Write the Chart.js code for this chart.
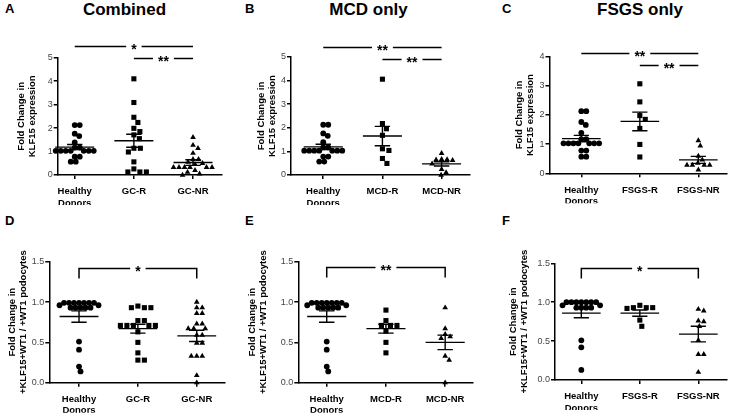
<!DOCTYPE html>
<html>
<head>
<meta charset="utf-8">
<script src="https://cdn.jsdelivr.net/npm/chart.js@4.4.1/dist/chart.umd.min.js"></script>
<style>
  body { margin: 0; width: 731px; height: 416px; position: relative; overflow: hidden; background: #fff; font-family: "Liberation Sans", Arial, sans-serif; color: #000; }
  canvas { position: absolute; }
  .letter { position: absolute; font-weight: bold; font-size: 13px; line-height: 13px; }
  .title { position: absolute; font-weight: bold; font-size: 17px; line-height: 17px; white-space: nowrap; transform: translateX(-50%); }
</style>
</head>
<body>
<div class="letter" style="left:5px;top:1.5px">A</div>
<div class="letter" style="left:245px;top:1.5px">B</div>
<div class="letter" style="left:502px;top:1.5px">C</div>
<div class="letter" style="left:5px;top:214px">D</div>
<div class="letter" style="left:245px;top:214px">E</div>
<div class="letter" style="left:502px;top:214px">F</div>
<div class="title" style="left:124.5px;top:0.6px">Combined</div>
<div class="title" style="left:368.5px;top:0.6px">MCD only</div>
<div class="title" style="left:640px;top:0.6px">FSGS only</div>

<canvas id="cA" width="240" height="185" style="left:0;top:30px"></canvas>
<canvas id="cB" width="240" height="185" style="left:240px;top:30px"></canvas>
<canvas id="cC" width="251" height="185" style="left:480px;top:30px"></canvas>
<canvas id="cD" width="240" height="176" style="left:0;top:240px"></canvas>
<canvas id="cE" width="240" height="176" style="left:240px;top:240px"></canvas>
<canvas id="cF" width="251" height="176" style="left:480px;top:240px"></canvas>

<script>
  // ---- data ----
  const catsA = [["Healthy", "Donors"], "GC-R", "GC-NR"];
  const catsB = [["Healthy", "Donors"], "MCD-R", "MCD-NR"];
  const catsC = [["Healthy", "Donors"], "FSGS-R", "FSGS-NR"];

  const titleTop = ["Fold Change in", "KLF15 expression"];
  const titleBottom = ["Fold Change in", "+KLF15+WT1 / +WT1 podocytes"];

  // KLF15 expression (top row)
  const klfHealthy = [2.13, 2.13, 1.76, 1.66, 1.39, 1.17, 1.17, 1.03, 1.03, 1.03, 1.03, 1.03, 1.03, 1.03, 0.78, 0.78, 0.57, 0.57];
  const klfGcR = [4.10, 3.09, 2.46, 2.24, 1.99, 1.85, 1.71, 1.55, 1.14, 1.14, 0.98, 0.56, 0.26, 0.13, 0.13, 0.13];
  const klfGcNR = [1.61, 1.27, 1.14, 0.93, 0.67, 0.67, 0.55, 0.50, 0.45, 0.33, 0.33, 0.33, 0.33, 0.33, 0.33, 0.20, 0.12, 0.05, 0.0];
  const klfMcdR = [4.06, 2.18, 1.96, 1.68, 1.11, 1.04, 0.70, 0.49];
  const klfMcdNR = [0.92, 0.66, 0.65, 0.64, 0.62, 0.47, 0.24, 0.10, 0.0];
  const klfFsgsR = [3.07, 2.45, 1.98, 1.85, 1.54, 0.99, 0.56];
  const klfFsgsNR = [1.12, 0.94, 0.59, 0.46, 0.35, 0.28, 0.28, 0.28, 0.28, 0.12];

  // podocyte ratio (bottom row)
  const podHealthy = [0.99, 0.99, 0.99, 0.99, 0.99, 0.99, 0.99, 0.96, 0.96, 0.93, 0.93, 0.93, 0.93, 0.93, 0.51, 0.41, 0.20, 0.14];
  const podHealthyF = [1.0, 1.0, 1.0, 1.0, 1.0, 1.0, 1.0, 0.96, 0.96, 0.93, 0.93, 0.93, 0.93, 0.51, 0.42, 0.13];
  const podGcR = [0.95, 0.93, 0.93, 0.93, 0.77, 0.77, 0.71, 0.71, 0.71, 0.71, 0.71, 0.63, 0.50, 0.37, 0.28, 0.28];
  const podGcNR = [1.0, 0.93, 0.93, 0.86, 0.86, 0.73, 0.73, 0.67, 0.67, 0.67, 0.59, 0.59, 0.49, 0.49, 0.33, 0.33, 0.33, 0.09, 0.0];
  const podMcdR = [0.90, 0.77, 0.71, 0.71, 0.71, 0.64, 0.50, 0.37];
  const podMcdNR = [0.93, 0.67, 0.60, 0.57, 0.55, 0.33, 0.28, 0.0];
  const podFsgsR = [0.96, 0.93, 0.93, 0.93, 0.92, 0.77, 0.69];
  const podFsgsNR = [0.91, 0.89, 0.76, 0.75, 0.69, 0.51, 0.33, 0.33, 0.10];

  // mean and SEM as drawn
  const meanA = [1.19, 1.46, 0.53], semA = [0.11, 0.28, 0.12];
  const meanB = [1.19, 1.65, 0.47], semB = [0.11, 0.41, 0.09];
  const meanC = [1.19, 1.78, 0.46], semC = [0.11, 0.32, 0.12];
  const meanD = [0.82, 0.67, 0.58], semD = [0.07, 0.055, 0.07];
  const meanE = [0.82, 0.67, 0.50], semE = [0.07, 0.055, 0.09];
  const meanF = [0.86, 0.86, 0.59], semF = [0.06, 0.04, 0.10];

  // significance bars
  const sigPairsTop = [[0, 2], [1, 2]];
  const sigPairsBottom = [[0, 2]];
  const sigLabelsA = ["*", "**"], sigLabelsB = ["**", "**"], sigLabelsC = ["**", "**"];
  const sigLabelsD = ["*"], sigLabelsE = ["**"], sigLabelsF = ["*"];

  // ---- drawing ----
  const FONT = '"Liberation Sans", Arial, Helvetica, sans-serif';
  Chart.defaults.font.family = FONT;

  const MARKS = [
    { style: "circle", r: 2.9, gap: 5 },
    { style: "rect", r: 3.6, gap: 6.5 },
    { style: "triangle", r: 3.3, gap: 5.5 },
  ];

  // GraphPad-like scatter: spread points sideways so they do not overlap
  function swarmOffsets(values, pxPerY, pxPerX, gap) {
    const placed = [];
    const out = new Array(values.length);
    const order = values.map((_, i) => i).sort((a, b) => values[b] - values[a]);
    for (const i of order) {
      const py = values[i] * pxPerY;
      for (let k = 0; k < 400; k++) {
        const px = (k % 2 ? 1 : -1) * Math.ceil(k / 2) * 0.5;
        if (placed.every((p) => (p.x - px) ** 2 + (p.y - py) ** 2 >= gap * gap)) {
          placed.push({ x: px, y: py });
          out[i] = px / pxPerX;
          break;
        }
      }
    }
    return out;
  }

  function sigPlugin(p) {
    return {
      id: "sig",
      afterDraw(chart) {
        const { ctx } = chart;
        const x = chart.scales.x, y = chart.scales.y;
        ctx.save();
        ctx.strokeStyle = "#000";
        ctx.fillStyle = "#000";
        ctx.lineWidth = 1.5;
        ctx.font = "bold 14px " + FONT;
        ctx.textAlign = "center";
        ctx.textBaseline = "alphabetic";
        p.sigPairs.forEach(([a, b], i) => {
          const x1 = x.getPixelForValue(a), x2 = x.getPixelForValue(b);
          const yy = Math.round(y.getPixelForValue(p.sigY[i])) + 0.5;
          const xm = (x1 + x2) / 2;
          const half = ctx.measureText(p.sigLabels[i]).width / 2 + 5;
          const leg = p.bracket ? 10 : 0;
          ctx.beginPath();
          ctx.moveTo(x1, yy + leg);
          ctx.lineTo(x1, yy);
          ctx.lineTo(xm - half, yy);
          ctx.moveTo(xm + half, yy);
          ctx.lineTo(x2, yy);
          ctx.lineTo(x2, yy + leg);
          ctx.stroke();
          ctx.fillText(p.sigLabels[i], xm, yy + 7.5);
        });
        ctx.restore();
      },
    };
  }

  function makePanel(p) {
    const canvas = document.getElementById(p.id);
    const W = canvas.width, H = canvas.height;
    const pxPerY = (p.bottom - p.top) / p.yMax;
    const pxPerX = (p.right - p.left) / (p.xMax - p.xMin);
    const xAxisH = 30;

    const datasets = p.groups.map((vals, gi) => {
      const offs = swarmOffsets(vals, pxPerY, pxPerX, MARKS[gi].gap);
      return {
        type: "scatter",
        data: vals.map((v, j) => ({ x: gi + offs[j], y: v })),
        pointStyle: MARKS[gi].style,
        pointRadius: MARKS[gi].r,
        backgroundColor: "#000",
        borderColor: "#000",
        borderWidth: 0,
        clip: false,
      };
    });

    const segs = [];
    p.mean.forEach((m, gi) => {
      const s = p.sem[gi];
      segs.push(
        { x: gi - 0.33, y: m }, { x: gi + 0.33, y: m }, { x: gi, y: null },
        { x: gi - 0.13, y: m + s }, { x: gi + 0.13, y: m + s }, { x: gi, y: null },
        { x: gi - 0.13, y: m - s }, { x: gi + 0.13, y: m - s }, { x: gi, y: null },
        { x: gi, y: m - s }, { x: gi, y: m + s }, { x: gi, y: null }
      );
    });
    datasets.push({
      type: "line",
      data: segs,
      borderColor: "#000",
      borderWidth: 1.4,
      pointRadius: 0,
      spanGaps: false,
      fill: false,
      tension: 0,
      clip: false,
    });

    new Chart(canvas, {
      type: "scatter",
      data: { datasets },
      options: {
        responsive: false,
        animation: false,
        events: [],
        layout: {
          padding: { left: p.left - p.yW, right: W - p.right, top: p.top, bottom: H - p.bottom - xAxisH },
        },
        plugins: { legend: { display: false }, tooltip: { enabled: false } },
        scales: {
          x: {
            type: "linear",
            min: p.xMin,
            max: p.xMax,
            afterBuildTicks: (s) => { s.ticks = [0, 1, 2].map((v) => ({ value: v })); },
            afterFit: (s) => { s.height = xAxisH; },
            ticks: {
              callback: (v) => p.cats[v],
              font: { size: 9.5, weight: "bold", lineHeight: 1.2 },
              color: "#000",
              padding: 7,
              maxRotation: 0,
              autoSkip: false,
            },
            grid: { drawOnChartArea: false, tickLength: 4, color: "#000", lineWidth: 1.5 },
            border: { color: "#000", width: 1.5 },
          },
          y: {
            type: "linear",
            min: 0,
            max: p.yMax,
            afterFit: (s) => { s.width = p.yW; },
            ticks: {
              stepSize: p.yStep,
              callback: (v) => (p.yStep < 1 ? v.toFixed(1) : String(v)),
              font: { size: 9 },
              color: "#444",
              padding: 1,
            },
            title: {
              display: true,
              text: p.yTitle,
              font: { size: 9.5, weight: "bold", lineHeight: 1.15 },
              color: "#000",
              padding: 0,
            },
            grid: { drawOnChartArea: false, tickLength: 4, color: "#000", lineWidth: 1.5 },
            border: { color: "#000", width: 1.5 },
          },
        },
      },
      plugins: [sigPlugin(p)],
    });
  }

  const panels = [
    { id: "cA", cats: catsA, groups: [klfHealthy, klfGcR, klfGcNR], mean: meanA, sem: semA,
      sigPairs: sigPairsTop, sigLabels: sigLabelsA, sigY: [5.48, 4.99], bracket: false,
      yTitle: titleTop, yMax: 5, yStep: 1,
      left: 57.7, right: 222, top: 27.7, bottom: 145, yW: 42, xMin: -0.288, xMax: 2.49 },
    { id: "cB", cats: catsB, groups: [klfHealthy, klfMcdR, klfMcdNR], mean: meanB, sem: semB,
      sigPairs: sigPairsTop, sigLabels: sigLabelsB, sigY: [5.44, 4.92], bracket: false,
      yTitle: titleTop, yMax: 5, yStep: 1,
      left: 51, right: 230, top: 27, bottom: 145, yW: 35.5, xMin: -0.545, xMax: 2.48 },
    { id: "cC", cats: catsC, groups: [klfHealthy, klfFsgsR, klfFsgsNR], mean: meanC, sem: semC,
      sigPairs: sigPairsTop, sigLabels: sigLabelsC, sigY: [4.13, 3.73], bracket: false,
      yTitle: titleTop, yMax: 4, yStep: 1,
      left: 69.5, right: 249, top: 26.7, bottom: 143.3, yW: 36, xMin: -0.544, xMax: 2.49 },
    { id: "cD", cats: catsA, groups: [podHealthy, podGcR, podGcNR], mean: meanD, sem: semD,
      sigPairs: sigPairsBottom, sigLabels: sigLabelsD, sigY: [1.425], bracket: true,
      yTitle: titleBottom, yMax: 1.5, yStep: 0.5,
      left: 49.3, right: 225, top: 21.7, bottom: 142.7, yW: 42.8, xMin: -0.505, xMax: 2.48 },
    { id: "cE", cats: catsB, groups: [podHealthy, podMcdR, podMcdNR], mean: meanE, sem: semE,
      sigPairs: sigPairsBottom, sigLabels: sigLabelsE, sigY: [1.437], bracket: true,
      yTitle: titleBottom, yMax: 1.5, yStep: 0.5,
      left: 58.3, right: 233, top: 21.7, bottom: 142.7, yW: 51.3, xMin: -0.48, xMax: 2.47 },
    { id: "cF", cats: catsC, groups: [podHealthyF, podFsgsR, podFsgsNR], mean: meanF, sem: semF,
      sigPairs: sigPairsBottom, sigLabels: sigLabelsF, sigY: [1.436], bracket: true,
      yTitle: titleBottom, yMax: 1.5, yStep: 0.5,
      left: 75, right: 249, top: 23.3, bottom: 140, yW: 47.5, xMin: -0.45, xMax: 2.49 },
  ];

  panels.forEach(makePanel);
</script>
</body>
</html>
